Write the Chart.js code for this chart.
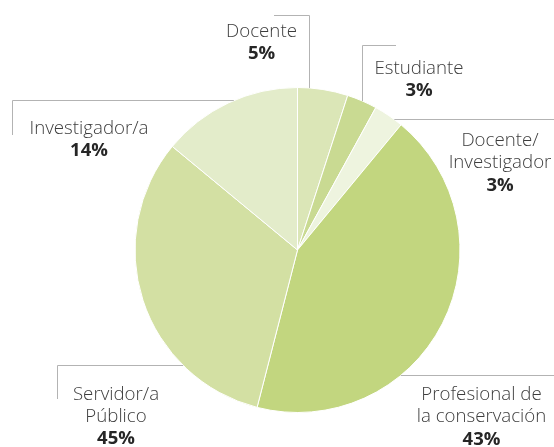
<!DOCTYPE html>
<html lang="es">
  <head>
    <meta charset="UTF-8" />
    <title>Perfil de participantes</title>
    <script src="https://cdn.jsdelivr.net/npm/chart.js@4.4.1/dist/chart.umd.min.js"></script>
    <style>
      html, body { margin: 0; padding: 0; background: #fff; }
      #pie { display: block; }
    </style>
  </head>
  <body>
    <canvas id="pie" width="554" height="447"></canvas>
    <script>
      // data (slice sizes vs. printed percentages differ in the source)
      const categories = ["Docente", "Estudiante", "Docente/Investigador", "Profesional de la conservación", "Servidor/a Público", "Investigador/a"];
      const sliceValues = [5, 3, 3, 43, 32, 14];
      const pctLabels = ["5%", "3%", "3%", "43%", "45%", "14%"];
      const labelLines = [["Docente"], ["Estudiante"], ["Docente/", "Investigador"], ["Profesional de", "la conservación"], ["Servidor/a", "Público"], ["Investigador/a"]];
      const sliceColors = ["#dbe6b7", "#c9da92", "#eef4df", "#c2d67f", "#d3e0a3", "#e3ecca"];

      // label placement: text centre x, first baseline, and leader line shape
      const labelLayout = [
        { x: 261.5, y: 37, leader: { pts: [[274, 15.5], [309.5, 15.5]], to: "down" } },
        { x: 419, y: 73.5, leader: { pts: [[396, 45.5], [362.5, 45.5]], to: "down" } },
        { x: 500, y: 146, leader: { pts: [[554, 119.5]], to: "left" } },
        { x: 481.5, y: 400, leader: { pts: [[554, 375.5]], to: "left" } },
        { x: 116, y: 399.5, leader: { pts: [[57.5, 399], [57.5, 365.5]], to: "right" } },
        { x: 89, y: 133.5, leader: { pts: [[12.5, 135], [12.5, 100.5]], to: "right" } }
      ];
      const lineGap = 22.3;

      const calloutPlugin = {
        id: "callouts",
        afterDatasetsDraw(chart) {
          const ctx = chart.ctx;
          const arc = chart.getDatasetMeta(0).data[0];
          const cx = arc.x, cy = arc.y, r = arc.outerRadius;
          ctx.save();
          ctx.strokeStyle = "#b3b3b3";
          ctx.lineWidth = 1;
          labelLayout.forEach(function(l) {
            const pts = l.leader.pts;
            const last = pts[pts.length - 1];
            let end;
            if (l.leader.to === "down") {
              end = [last[0], cy - Math.sqrt(r * r - Math.pow(last[0] - cx, 2))];
            } else if (l.leader.to === "left") {
              end = [cx + Math.sqrt(r * r - Math.pow(last[1] - cy, 2)), last[1]];
            } else {
              end = [cx - Math.sqrt(r * r - Math.pow(last[1] - cy, 2)), last[1]];
            }
            ctx.beginPath();
            ctx.moveTo(pts[0][0], pts[0][1]);
            for (let i = 1; i < pts.length; i++) ctx.lineTo(pts[i][0], pts[i][1]);
            ctx.lineTo(end[0], end[1]);
            ctx.stroke();
          });

          ctx.textAlign = "center";
          ctx.textBaseline = "alphabetic";
          labelLines.forEach(function(lines, i) {
            const l = labelLayout[i];
            ctx.fillStyle = "#3d3d3d";
            ctx.font = "300 18.7px 'Open Sans', 'Noto Sans', sans-serif";
            lines.forEach(function(t, j) {
              ctx.fillText(t, l.x, l.y + j * lineGap);
            });
            ctx.fillStyle = "#262626";
            ctx.font = "bold 18.5px 'Open Sans', 'Noto Sans', sans-serif";
            ctx.fillText(pctLabels[i], l.x, l.y + lines.length * lineGap);
          });
          ctx.restore();
        }
      };

      new Chart(document.getElementById("pie"), {
        type: "pie",
        data: {
          labels: categories,
          datasets: [
            {
              data: sliceValues,
              backgroundColor: sliceColors,
              borderColor: "#ffffff",
              borderWidth: 1
            }
          ]
        },
        options: {
          responsive: false,
          animation: false,
          layout: { padding: { top: 87, bottom: 34, left: 134, right: 93 } },
          plugins: {
            legend: { display: false },
            tooltip: { enabled: false }
          }
        },
        plugins: [calloutPlugin]
      });
    </script>
  </body>
</html>
